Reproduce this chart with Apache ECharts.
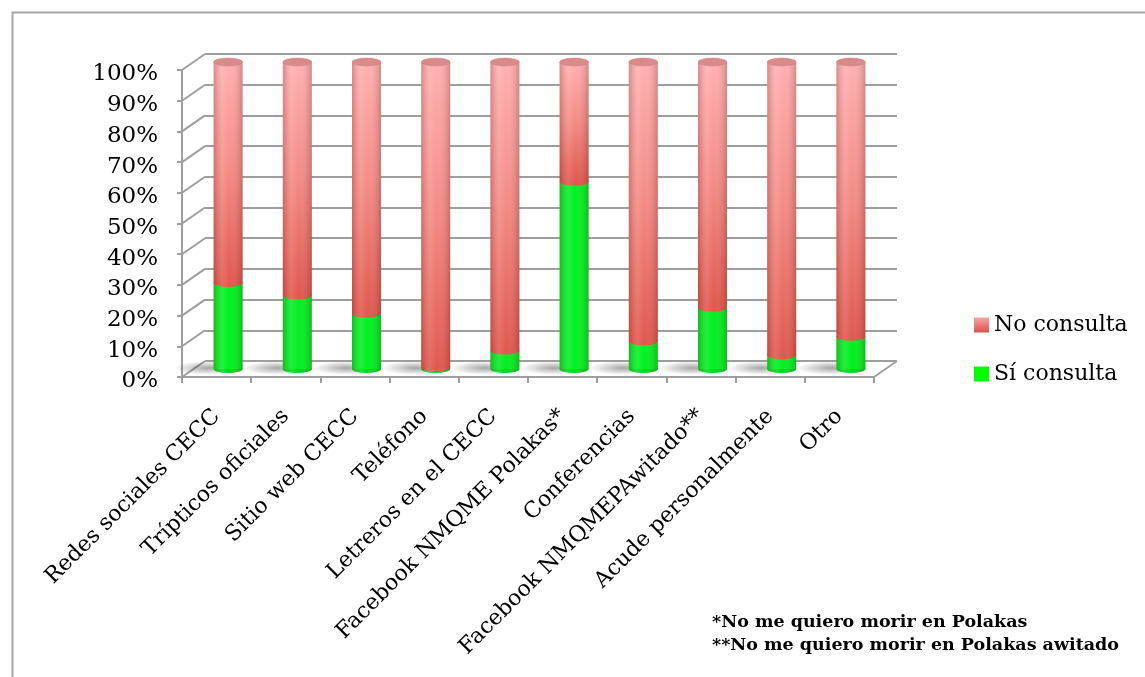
<!DOCTYPE html>
<html>
<head>
<meta charset="utf-8">
<script src="https://cdn.jsdelivr.net/npm/echarts@6/dist/echarts.min.js"></script>
<style>html,body{margin:0;padding:0;background:#fff}#c{width:1145px;height:677px}</style>
</head>
<body>
<div id="c"></div>
<script>
// ---- data ----
const categories = ['Redes sociales CECC','Trípticos oficiales','Sitio web CECC','Teléfono','Letreros en el CECC','Facebook NMQME Polakas*','Conferencias','Facebook NMQMEPAwitado**','Acude personalmente','Otro'];
const siConsulta = [28, 24, 18, 0.5, 6, 61, 9, 20, 4.5, 10.5];
const noConsulta = [72, 76, 82, 99.5, 94, 39, 91, 80, 95.5, 89.5];
const yTicks = [0, 10, 20, 30, 40, 50, 60, 70, 80, 90, 100];
const seriesNames = ['Sí consulta', 'No consulta'];
const footnotes = ['*No me quiero morir en Polakas', '**No me quiero morir en Polakas awitado'];

// ---- layout / style constants ----
const FONT = '"DejaVu Serif", serif';
const DX = 23, DY = -16;        // depth offset front -> back wall
const GRID_W = 692, GRID_H = 307;
const FRONT = {left: 182, top: 70};
const LINE_GRAY = '#9e9e9e';

const chart = echarts.init(document.getElementById('c'));

function cylinder(kind) {
  return function (params, api) {
    const i = api.value(0), lo = api.value(1), hi = api.value(2);
    const top = api.coord([i, hi]);
    const bot = api.coord([i, lo]);
    const cx = top[0];
    const w = 29, rx = w / 2, ry = 4;
    const children = [];
    let body, bottomCol, capCol;
    if (kind === 'si') {
      body = '#00f020';
      bottomCol = '#00d81c';
      capCol = '#3cff55';
    } else {
      body = new echarts.graphic.LinearGradient(0, 0, 0, 1, [
        {offset: 0, color: '#ffb0b0'},
        {offset: 0.5, color: '#f38a84'},
        {offset: 1, color: '#e0584e'}
      ]);
      bottomCol = '#e0584e';
      capCol = '#d98a8a';
    }
    const shade = () => new echarts.graphic.LinearGradient(0, 0, 1, 0, [
      {offset: 0, color: 'rgba(90,0,0,0.22)'},
      {offset: 0.3, color: 'rgba(255,255,255,0.12)'},
      {offset: 0.55, color: 'rgba(255,255,255,0)'},
      {offset: 1, color: 'rgba(60,0,0,0.22)'}
    ]);
    if (kind === 'si') {
      // floor shadow
      children.push({
        type: 'circle', shape: {cx: 0, cy: 0, r: 34}, x: cx - 20, y: bot[1] - 1, scaleY: 0.2,
        style: {fill: new echarts.graphic.RadialGradient(0.5, 0.5, 0.5, [
          {offset: 0, color: 'rgba(0,0,0,0.35)'},
          {offset: 1, color: 'rgba(0,0,0,0)'}
        ])},
        silent: true
      });
    }
    if (hi - lo <= 0) return {type: 'group', children: children};
    children.push({
      type: 'circle', shape: {cx: 0, cy: 0, r: rx}, x: cx, y: bot[1], scaleY: ry / rx,
      style: {fill: bottomCol}
    });
    children.push({
      type: 'circle', shape: {cx: 0, cy: 0, r: rx}, x: cx, y: bot[1], scaleY: ry / rx,
      style: {fill: shade()}
    });
    children.push({
      type: 'rect', shape: {x: cx - rx, y: top[1], width: w, height: bot[1] - top[1]},
      style: {fill: body}
    });
    children.push({
      type: 'rect', shape: {x: cx - rx, y: top[1], width: w, height: bot[1] - top[1]},
      style: {fill: shade()}
    });
    if (hi >= 99.9) {
      children.push({
        type: 'circle', shape: {cx: 0, cy: 0, r: rx}, x: cx, y: top[1], scaleY: ry / rx,
        style: {fill: capCol, stroke: '#c97a7a', lineWidth: 0.6}
      });
    }
    return {type: 'group', children: children};
  };
}

const siData = categories.map((c, i) => [i, 0, siConsulta[i]]);
const noData = categories.map((c, i) => [i, siConsulta[i], siConsulta[i] + noConsulta[i]]);

const option = {
  backgroundColor: '#fff',
  animation: false,
  grid: [
    {left: FRONT.left, top: FRONT.top, width: GRID_W, height: GRID_H},
    {left: FRONT.left + DX, top: FRONT.top + DY, width: GRID_W, height: GRID_H},
    {left: FRONT.left + DX / 2, top: FRONT.top + DY / 2, width: GRID_W, height: GRID_H}
  ],
  xAxis: [
    {
      type: 'category', gridIndex: 0, data: categories,
      axisLine: {lineStyle: {color: LINE_GRAY, width: 2}},
      axisTick: {show: true, length: 6, lineStyle: {color: LINE_GRAY, width: 2}},
      axisLabel: {interval: 0, rotate: 45, margin: 36, color: '#000', fontSize: 22, fontFamily: FONT}
    },
    {type: 'category', gridIndex: 1, data: categories, show: false},
    {type: 'category', gridIndex: 2, data: categories, show: false}
  ],
  yAxis: [
    {
      type: 'value', gridIndex: 0, min: 0, max: 100, interval: 10,
      axisLine: {show: true, lineStyle: {color: LINE_GRAY, width: 2}},
      axisTick: {show: true, length: 5, lineStyle: {color: LINE_GRAY, width: 2}},
      splitLine: {show: false},
      axisLabel: {
        formatter: '{p|{value}%}', margin: 24,
        rich: {p: {padding: [9, 0, 0, 0], color: '#000', fontSize: 23, fontFamily: FONT}}
      }
    },
    {
      type: 'value', gridIndex: 1, min: 0, max: 100, interval: 10,
      axisLine: {show: false}, axisTick: {show: false}, axisLabel: {show: false},
      splitLine: {show: true, lineStyle: {color: LINE_GRAY, width: 2}}
    },
    {type: 'value', gridIndex: 2, min: 0, max: 100, show: false, splitLine: {show: false}}
  ],
  legend: {
    orient: 'vertical', left: 969, top: 309, itemWidth: 15, itemHeight: 15, itemGap: 27,
    icon: 'rect',
    data: [seriesNames[1], seriesNames[0]],
    textStyle: {fontSize: 22, fontFamily: FONT, color: '#000'}
  },
  series: [
    {
      // left wall diagonals + floor right edge
      type: 'custom', xAxisIndex: 0, yAxisIndex: 0, silent: true, z: 1,
      data: yTicks.map(v => [0, v]),
      renderItem: function (params, api) {
        const cs = params.coordSys;
        const y = api.coord([0, api.value(1)])[1];
        const ch = [{
          type: 'line', shape: {x1: cs.x, y1: y, x2: cs.x + DX, y2: y + DY},
          style: {stroke: LINE_GRAY, lineWidth: 2}
        }];
        if (params.dataIndex === 0) {
          ch.push({
            type: 'line', shape: {x1: cs.x + cs.width, y1: y, x2: cs.x + cs.width + DX, y2: y + DY},
            style: {stroke: LINE_GRAY, lineWidth: 2}
          });
        }
        return {type: 'group', children: ch};
      }
    },
    {
      name: seriesNames[0], type: 'custom', xAxisIndex: 2, yAxisIndex: 2, z: 3,
      itemStyle: {color: '#00ff00'},
      data: siData, renderItem: cylinder('si')
    },
    {
      name: seriesNames[1], type: 'custom', xAxisIndex: 2, yAxisIndex: 2, z: 4,
      itemStyle: {color: new echarts.graphic.LinearGradient(0, 0, 0, 1, [
        {offset: 0, color: '#f7a5a5'}, {offset: 1, color: '#d9534a'}
      ])},
      data: noData, renderItem: cylinder('no')
    }
  ],
  graphic: [
    {
      type: 'rect', left: 10, top: 10, silent: true,
      shape: {x: 0, y: 0, width: 1200, height: 800},
      style: {fill: 'none', stroke: '#a8a8a8', lineWidth: 2}
    },
    {
      type: 'text', left: 712, top: 611, silent: true,
      style: {text: footnotes.join('\n'), font: 'bold 17.5px ' + FONT, fill: '#000', lineHeight: 23}
    }
  ]
};
chart.setOption(option);
</script>
</body>
</html>
